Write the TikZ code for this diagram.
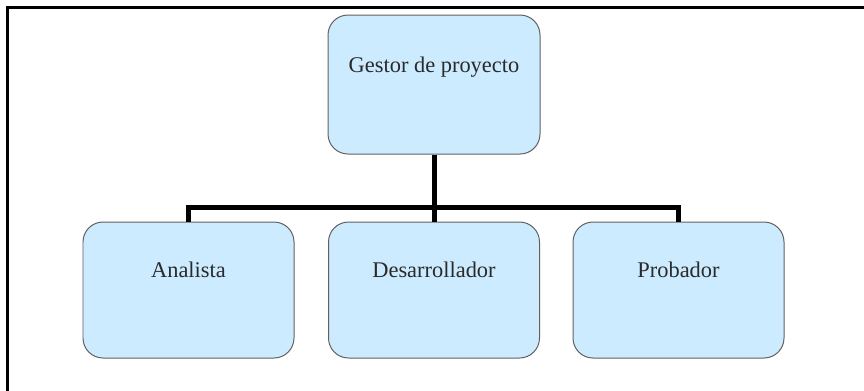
\documentclass[tikz,border=0pt]{standalone}
\usepackage{fontspec}
\setmainfont{Liberation Serif}
\definecolor{boxfill}{HTML}{CCEBFF}
\definecolor{boxline}{HTML}{606060}
\definecolor{txtcol}{HTML}{2A2A2A}
\tikzset{
  orgbox/.style={draw=boxline, line width=1pt, fill=boxfill, rounded corners=20bp, inner sep=0pt},
  topbox/.style={orgbox, minimum width=212bp, minimum height=139bp},
  childbox/.style={orgbox, minimum width=211bp, minimum height=136bp},
  lbl/.style={anchor=base, text=txtcol, font=\fontsize{22.5}{26}\selectfont, inner sep=0pt},
  conn/.style={line width=5bp, black, line join=miter},
  frame/.style={line width=3bp, black, line join=miter}
}
\begin{document}
\begin{tikzpicture}[x=1bp,y=-1bp]
\useasboundingbox (0,0) rectangle (864,390);
\draw[frame] (7,400) -- (7,7) -- (880,7);
% boxes
\node[topbox] (gestor) at (434,84.5) {};
\node[childbox] (analista) at (188.5,290) {};
\node[childbox] (desarrollador) at (434,290) {};
\node[childbox] (probador) at (678.5,290) {};
% labels
\node[lbl] (tgestor) at (434,72) {Gestor de proyecto};
\node[lbl] (tanalista) at (188.5,277) {Analista};
\node[lbl] (tdesarrollador) at (434,277) {Desarrollador};
\node[lbl] (tprobador) at (678.5,277) {Probador};
% connectors
\coordinate (bus) at (434,207);
\draw[conn] (gestor.south) -- (bus);
\draw[conn] (analista.north) -- (analista.north |- bus) -- (probador.north |- bus) -- (probador.north);
\draw[conn] (bus) -- (desarrollador.north);
\end{tikzpicture}
\end{document}
